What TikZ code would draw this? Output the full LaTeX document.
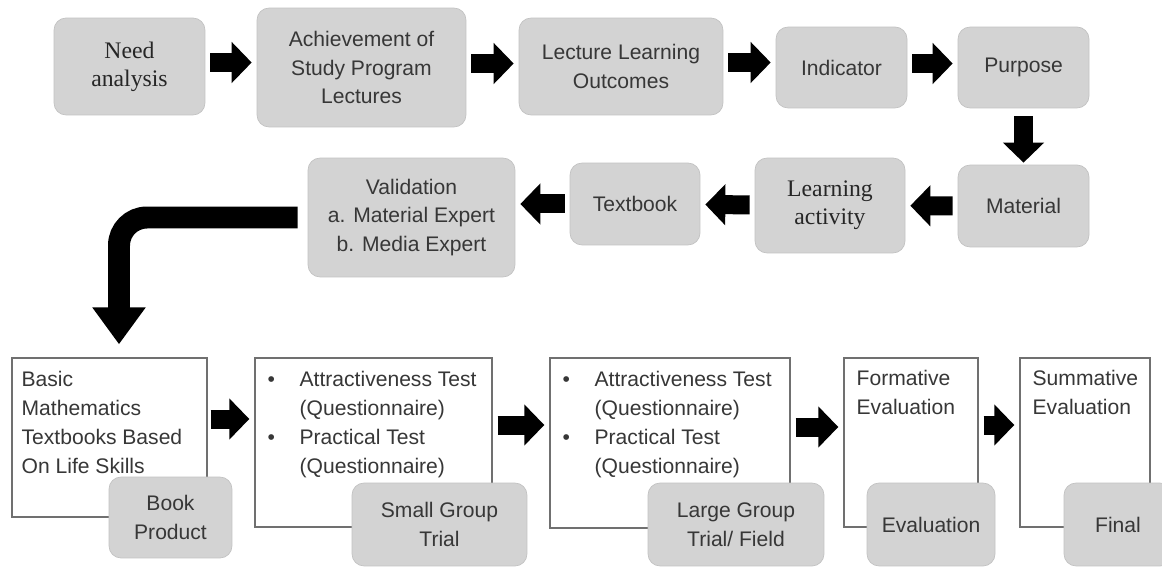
\documentclass[tikz,border=0pt]{standalone}
\usepackage{fontspec}
\setmainfont{Liberation Sans}
\newfontfamily\serifrm{Liberation Serif}
\usetikzlibrary{arrows.meta}
\definecolor{boxgray}{RGB}{211,211,211}
\definecolor{edgegray}{RGB}{112,112,112}
\definecolor{txtgray}{RGB}{55,55,55}
\newcommand{\bitem}[1]{\makebox[0.64cm][l]{\textbullet}#1}
\newcommand{\bcont}[1]{\hspace*{0.64cm}#1}
\begin{document}
\begin{tikzpicture}[x=0.02cm,y=-0.02cm,
    stage/.style={rectangle,rounded corners=0.24cm,fill=boxgray,draw=black!24,
      text=txtgray,align=center,inner sep=2pt,font=\fontsize{12}{16.3}\selectfont},
    serifstage/.style={stage,text=black!85,font=\serifrm\fontsize{13.5}{16}\selectfont},
    panel/.style={rectangle,draw=edgegray,line width=0.8pt,fill=white},
    paneltext/.style={anchor=north west,inner sep=0pt,align=left,text=txtgray,
      font=\fontsize{12}{16.5}\selectfont},
    blockarrow/.style={line width=0.38cm,-{Triangle[length=0.4cm,width=0.8cm]},
      shorten <=0.1cm,shorten >=0.1cm}]
  \useasboundingbox (0,0) rectangle (1162,567);

  % first row
  \node[serifstage,minimum width=3.02cm,minimum height=1.94cm] (need) at (129.5,66.5) {Need\\analysis};
  \node[stage,minimum width=4.18cm,minimum height=2.38cm] (achieve) at (361.5,67.5) {Achievement of\\Study Program\\Lectures};
  \node[stage,minimum width=4.08cm,minimum height=1.94cm] (outcome) at (621,66.5) {Lecture Learning\\Outcomes};
  \node[stage,minimum width=2.62cm,minimum height=1.62cm] (indicator) at (841.5,67.5) {Indicator};
  \node[stage,minimum width=2.62cm,minimum height=1.62cm] (purpose) at (1023.5,67.5) {Purpose};

  % second row, right to left
  \node[stage,minimum width=2.62cm,minimum height=1.64cm] (material) at (1023.5,206) {Material};
  \node[serifstage,minimum width=3cm,minimum height=1.9cm] (activity) at (830,205.5) {Learning\\activity};
  \node[stage,minimum width=2.6cm,minimum height=1.64cm] (textbook) at (635,204) {Textbook};
  \node[stage,minimum width=4.14cm,minimum height=2.38cm] (valid) at (411.5,217.5) {Validation\\a. Material Expert\\b. Media Expert};

  % third row
  \node[panel,minimum width=3.9cm,minimum height=3.18cm] (basic) at (109.5,437.5) {};
  \node[panel,minimum width=4.74cm,minimum height=3.38cm] (small) at (373.5,442.5) {};
  \node[panel,minimum width=4.8cm,minimum height=3.4cm] (large) at (670,443) {};
  \node[panel,minimum width=2.68cm,minimum height=3.38cm] (formative) at (911,442.5) {};
  \node[panel,minimum width=2.6cm,minimum height=3.38cm] (summative) at (1085,442.5) {};

  \node[paneltext] (basictxt) at ([xshift=0.2cm,yshift=-0.28cm]basic.north west) {Basic\\Mathematics\\Textbooks Based\\On Life Skills};
  \node[paneltext] (smalltxt) at ([xshift=0.26cm,yshift=-0.28cm]small.north west)
    {\bitem{Attractiveness Test}\\\bcont{(Questionnaire)}\\\bitem{Practical Test}\\\bcont{(Questionnaire)}};
  \node[paneltext] (largetxt) at ([xshift=0.26cm,yshift=-0.28cm]large.north west)
    {\bitem{Attractiveness Test}\\\bcont{(Questionnaire)}\\\bitem{Practical Test}\\\bcont{(Questionnaire)}};
  \node[paneltext] (formativetxt) at ([xshift=0.26cm,yshift=-0.26cm]formative.north west) {Formative\\Evaluation};
  \node[paneltext] (summativetxt) at ([xshift=0.26cm,yshift=-0.26cm]summative.north west) {Summative\\Evaluation};

  \node[stage,minimum width=2.46cm,minimum height=1.62cm] (product) at (170.5,517.5) {Book\\Product};
  \node[stage,minimum width=3.5cm,minimum height=1.66cm] (smalltrial) at (439.5,524.5) {Small Group\\Trial};
  \node[stage,minimum width=3.52cm,minimum height=1.66cm] (largetrial) at (736,524.5) {Large Group\\Trial/ Field};
  \node[stage,minimum width=2.56cm,minimum height=1.66cm] (evaluation) at (931,524.5) {Evaluation};
  \node[stage,minimum width=2.16cm,minimum height=1.66cm] (final) at (1118,524.5) {Final};

  % arrows
  \draw[blockarrow] ([yshift=0.08cm]need.east) -- ([yshift=0.08cm]need.east -| achieve.west);
  \draw[blockarrow] ([yshift=0.08cm]achieve.east) -- ([yshift=0.08cm]achieve.east -| outcome.west);
  \draw[blockarrow] ([yshift=0.08cm]outcome.east) -- ([yshift=0.08cm]outcome.east -| indicator.west);
  \draw[blockarrow] ([yshift=0.08cm]indicator.east) -- ([yshift=0.08cm]indicator.east -| purpose.west);
  \draw[blockarrow,shorten <=0.16cm,shorten >=0.04cm] (purpose) -- (material);
  \draw[blockarrow] (material) -- (activity);
  \draw[blockarrow] (activity) -- (textbook);
  \draw[blockarrow] (textbook.west) -- (textbook.west -| valid.east);
  \draw[line width=0.44cm,-{Triangle[length=0.74cm,width=1.02cm]},rounded corners=0.56cm,
    shorten <=0.2cm,shorten >=0.26cm] (valid.west) -| ([xshift=0.19cm]basic.north);
  \draw[blockarrow,shorten <=0.06cm] ([yshift=0.37cm]basic.east) -- ([yshift=0.37cm]basic.east -| small.west);
  \draw[blockarrow] ([yshift=0.35cm]small.east) -- ([yshift=0.35cm]small.east -| large.west);
  \draw[blockarrow] ([yshift=0.32cm]large.east) -- ([yshift=0.32cm]large.east -| formative.west);
  \draw[blockarrow] ([yshift=0.35cm]formative.east) -- ([yshift=0.35cm]formative.east -| summative.west);
\end{tikzpicture}
\end{document}
